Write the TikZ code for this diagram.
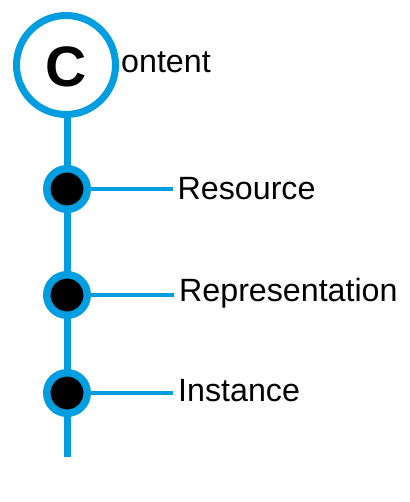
\documentclass[tikz,border=0pt]{standalone}
\usepackage{fontspec}
\setmainfont{Liberation Sans}
\usetikzlibrary{backgrounds}
\definecolor{cblue}{RGB}{0,158,224}
\begin{document}
\begin{tikzpicture}[x=1pt,y=-1pt,
  bigring/.style={circle,draw=cblue,line width=7pt,fill=white,minimum size=99pt,inner sep=0pt},
  dot/.style={circle,draw=cblue,line width=7.5pt,fill=black,minimum size=40.5pt,inner sep=0pt},
  lbl/.style={anchor=base west,inner sep=0pt,font=\fontsize{32.2}{38}\selectfont},
  stem/.style={draw=cblue,line width=7pt},
  twig/.style={draw=cblue,line width=4.3pt,shorten >=5pt}]
\useasboundingbox (0,0) rectangle (409,502);
\node[bigring] (c) at (66,65) {};
\node[anchor=base,inner sep=0pt,font=\fontsize{57}{60}\selectfont\bfseries] (cl) at (66.5,87) {C};
\node[lbl] (tc) at (121,73) {ontent};
\node[dot] (d1) at (67,189) {};
\node[dot] (d2) at (67,295) {};
\node[dot] (d3) at (67,393) {};
\node[lbl] (t1) at (177.5,199.5) {Resource};
\node[lbl] (t2) at (179,301.5) {Representation};
\node[lbl] (t3) at (178,401.5) {Instance};
\coordinate (end) at (67,457);
\begin{scope}[on background layer]
\draw[stem] (c.south -| end) -- (end);
\end{scope}
\draw[twig] (d1) -- (d1 -| t1.west);
\draw[twig] (d2) -- (d2 -| t2.west);
\draw[twig] (d3) -- (d3 -| t3.west);
\end{tikzpicture}
\end{document}
